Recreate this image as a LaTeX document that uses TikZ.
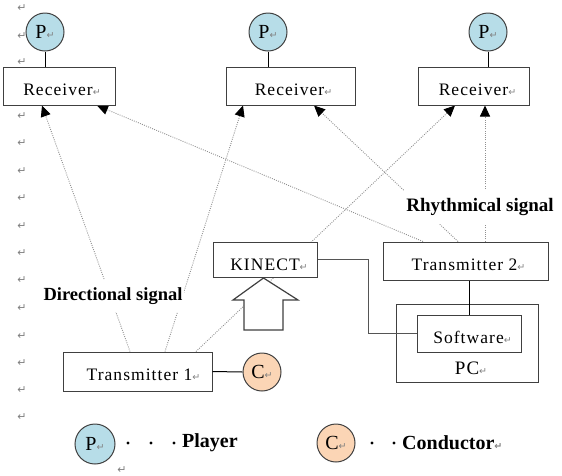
\documentclass[tikz,border=0pt]{standalone}
\usepackage{fontspec}
\setmainfont{Liberation Serif}
\newfontfamily\boxfont[LetterSpace=6]{Liberation Serif}
\newfontfamily\markfont{DejaVu Sans}
\usetikzlibrary{arrows.meta,calc}
\definecolor{markgray}{HTML}{808080}
\definecolor{pblue}{HTML}{B7DDE8}
\definecolor{cpeach}{HTML}{FBD5B5}
\definecolor{edge}{HTML}{404040}
\definecolor{signalgray}{HTML}{909090}
\definecolor{cablegray}{HTML}{555555}
\pgfdeclarelayer{bg}
\pgfsetlayers{bg,main}
% paragraph mark placed after a label
\newcommand\ret{{\markfont\fontsize{9.5}{9.5}\selectfont\textcolor{markgray}{↵}}}
\begin{document}
\begin{tikzpicture}[x=1pt,y=-1pt,
  pmark/.style={font=\markfont\fontsize{11}{11}\selectfont, text=markgray, inner sep=0pt},
  box/.style={draw=edge, line width=1pt, fill=white, inner sep=0pt},
  boxtext/.style={font=\boxfont\fontsize{17.5}{17.5}\selectfont, inner sep=0pt},
  person/.style={circle, draw=edge, line width=1pt, minimum size=38pt, inner sep=0pt,
                 font=\fontsize{20}{20}\selectfont},
  link/.style={draw=black, line width=1pt},
  cable/.style={draw=cablegray, line width=1.2pt},
  signal/.style={draw=signalgray, line width=0.9pt, dash pattern=on 0.9pt off 1.3pt,
                 -{Triangle[length=11pt,width=10pt,color=black]}},
  signaltext/.style={fill=white, inner xsep=2pt, inner ysep=8pt, font=\bfseries\fontsize{#1}{#1}\selectfont},
  legendtext/.style={inner sep=0pt, anchor=west, font=\bfseries\fontsize{20}{20}\selectfont},
  block/.style={draw=edge, line width=1.2pt, fill=white, line join=miter}
]
\useasboundingbox (0,0) rectangle (562,475);

% paragraph marks down the left margin
\foreach \yy [count=\k] in {8,36,62,116,143,171,198,226,253,280,308,336,363,390,417}
  \node[pmark] (m\k) at (22,\yy) {↵};
\node[pmark] (m16) at (122,470) {↵};

% players and receivers
\node[person, fill=pblue] (p1) at (45,32) {P\ret};
\node[person, fill=pblue] (p2) at (268,32) {P\ret};
\node[person, fill=pblue] (p3) at (488,32) {P\ret};
\node[box, minimum width=112pt, minimum height=38pt] (r1) at (59,86) {};
\node[box, minimum width=129pt, minimum height=38pt] (r2) at (290.5,86) {};
\node[box, minimum width=111pt, minimum height=38pt] (r3) at (473.5,86) {};
\node[boxtext] (r1t) at (62,90) {Receiver\ret};
\node[boxtext] (r2t) at (293.5,90) {Receiver\ret};
\node[boxtext] (r3t) at (477.5,90) {Receiver\ret};
\draw[link] (p1.south) -- (p1.south |- r1.north);
\draw[link] (p2.south) -- (p2.south |- r2.north);
\draw[link] (p3.south) -- (p3.south |- r3.north);

% transmitters, conductor, PC
\node[box, minimum width=149pt, minimum height=39pt] (t1) at (137.5,371.5) {};
\node[boxtext] (t1t) at (143.5,375) {Transmitter 1\ret};
\node[person, fill=cpeach] (c1) at (262,372) {C\ret};
\draw[link] (t1.east) -- (c1.west);

\node[box, minimum width=165pt, minimum height=38pt] (t2) at (465.5,261) {};
\node[boxtext] (t2t) at (468.5,265) {Transmitter 2\ret};
\node[box, minimum width=142pt, minimum height=78pt] (pc) at (467,343) {};
\node[box, minimum width=104pt, minimum height=37pt] (sw) at (469,333.5) {};
\node[boxtext] (swt) at (472.5,337) {Software\ret};
\node[boxtext, font=\boxfont\fontsize{19}{19}\selectfont] (pct) at (471,368) {PC\ret};
\draw[link] (t2.south -| sw.north) -- (sw.north);

% KINECT with the up arrow beneath it
\node[box, minimum width=104pt, minimum height=35pt] (kin) at (265,259.5) {};
\node[boxtext] (kint) at (269,265) {KINECT\ret};
\draw[block] (263.5,278) -- (298,300) -- (283,300) -- (283,330) -- (244,330)
  -- (244,300) -- (233,300) -- cycle;
\draw[cable] (kin.east) -- ++(51,0) |- (sw.west);

% wireless signals
\begin{pgfonlayer}{bg}
\draw[signal] ([xshift=-7.5pt]t1.north) -- ([xshift=-17pt]r1.south);
\draw[signal] ([xshift=27.5pt]t1.north) -- ([xshift=-47.5pt]r2.south);
\draw[signal] ([xshift=58.5pt]t1.north) -- ([xshift=-18.5pt]r3.south);
\draw[signal] ([xshift=-42.5pt]t2.north) -- ([xshift=38pt]r1.south);
\draw[signal] ([xshift=-7.5pt]t2.north) -- ([xshift=23.5pt]r2.south);
\draw[signal] ([xshift=19.5pt]t2.north) -- ([xshift=11.5pt]r3.south);
\end{pgfonlayer}
\node[signaltext=18.5] (dir) at (113,296) {Directional signal};
\node[signaltext=19] (rhy) at (480,207) {Rhythmical signal};

% legend
\node[person, fill=pblue, minimum size=40pt] (lp) at (95,444) {P\ret};
\fill (128,443) circle (1.6) (151,443) circle (1.6) (174,443) circle (1.6);
\node[legendtext] (lpt) at (182,443) {Player};
\node[person, fill=cpeach] (lc) at (336,443) {C\ret};
\fill (372,443) circle (1.6) (394,443) circle (1.6);
\node[legendtext] (lct) at (402,443) {Conductor\ret};
\end{tikzpicture}
\end{document}
